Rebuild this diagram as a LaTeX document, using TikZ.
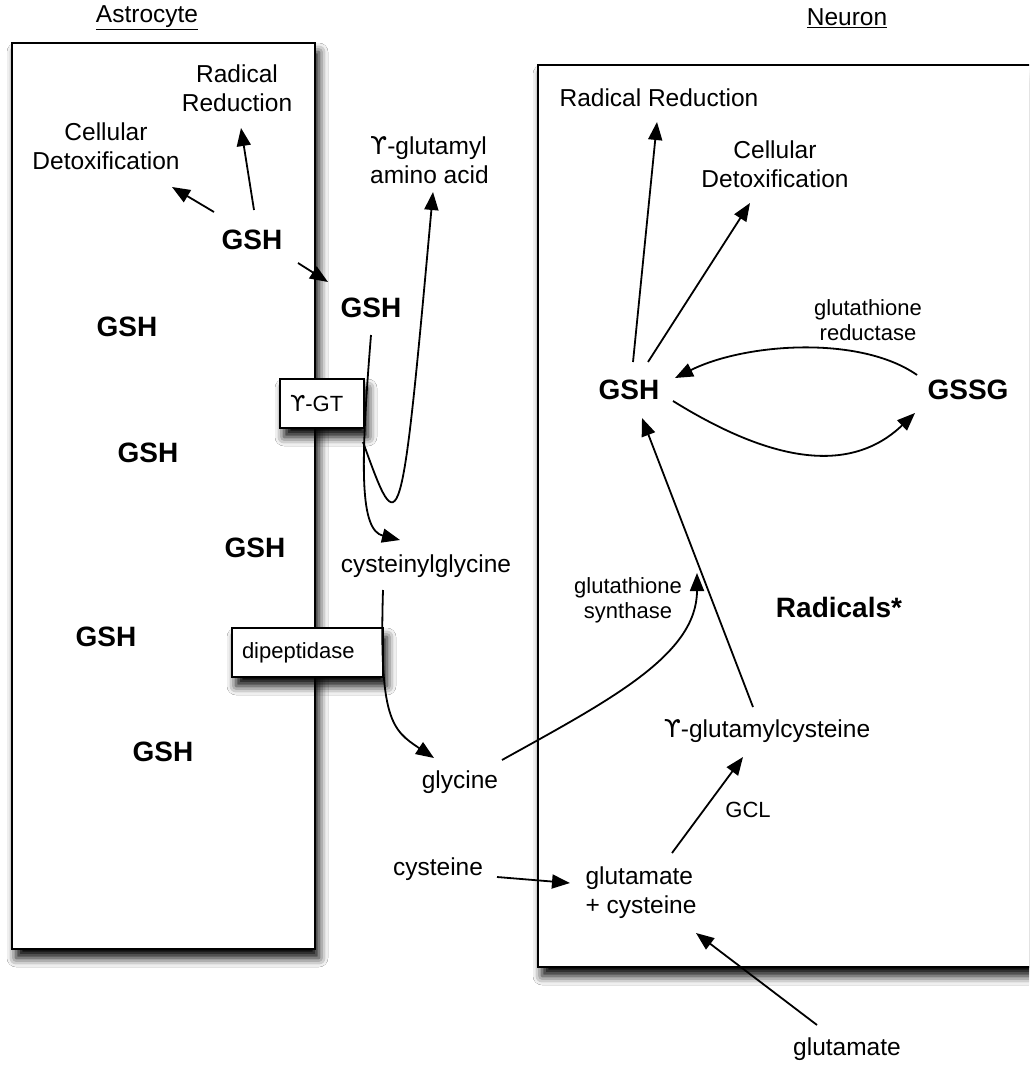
\documentclass[tikz,border=0pt]{standalone}
\usepackage{fontspec}
\setmainfont{Liberation Sans}
\newfontfamily\dejavu{DejaVu Sans}
\usetikzlibrary{arrows.meta,shadows.blur}
\newcommand{\gam}{{\dejavu ϒ}}
\tikzset{
  txt/.style={font=\fontsize{24.5}{29}\selectfont, align=center, inner sep=0pt},
  sml/.style={font=\fontsize{22}{25}\selectfont, align=center, inner sep=0pt},
  gsh/.style={font=\fontsize{28}{32}\selectfont\bfseries, inner sep=0pt},
  arr/.style={line width=1.8pt, -{Triangle[length=18pt,width=14pt]}},
  softshadow/.style={blur shadow={shadow xshift=4pt, shadow yshift=-9pt, shadow blur radius=9pt, shadow opacity=100}},
  cell/.style={draw, line width=2pt, fill=white, inner sep=0pt, softshadow},
  enz/.style={draw, line width=1.8pt, fill=white, inner ysep=0pt, inner xsep=10pt,
    font=\fontsize{22}{25}\selectfont, align=left, minimum height=49pt, softshadow}
}
\begin{document}
\begin{tikzpicture}[x=1pt,y=-1pt]
\useasboundingbox (0,0) rectangle (1029,1078);
\clip (0,0) rectangle (1029,1078);
\fill[white] (0,0) rectangle (1029,1078);

% cells
\node[cell, minimum width=303pt, minimum height=906pt] (astro) at (163.5,496) {};
\node[cell, minimum width=507pt, minimum height=902pt] (neuron) at (791.5,516) {};
\node[txt] (astroLbl) at (147,18) {\underline{Astrocyte}};
\node[txt] (neuronLbl) at (847,18) {\underline{Neuron}};

% enzymes on membrane
\node[enz, text width=64pt] (ygt) at (322,403.5) {\gam-GT};
\node[enz, text width=131pt] (dip) at (307.5,652.5) {dipeptidase};

% astrocyte texts
\node[txt] (radA) at (237,88) {Radical\\Reduction};
\node[txt] (detA) at (106,146) {Cellular\\Detoxification};
\node[gsh] (gshA) at (252,240) {GSH};
\node[gsh] (gsh1) at (127,327) {GSH};
\node[gsh] (gsh2) at (148,453) {GSH};
\node[gsh] (gsh3) at (255,548) {GSH};
\node[gsh] (gsh4) at (106,637) {GSH};
\node[gsh] (gsh5) at (163,752) {GSH};

% extracellular texts
\node[gsh] (gshB) at (371,308) {GSH};
\node[txt, anchor=west, align=left] (amino) at (370,160) {\gam-glutamyl\\amino acid};
\node[txt] (cysgly) at (426,566) {cysteinylglycine};
\node[txt] (glycine) at (460,782) {glycine};
\node[txt] (cysteine) at (438,869) {cysteine};
\node[txt] (glutamate) at (847,1049) {glutamate};

% neuron texts
\node[txt] (radN) at (659,98) {Radical Reduction};
\node[txt] (detN) at (775,164) {Cellular\\Detoxification};
\node[sml] (reduct) at (868,320) {glutathione\\reductase};
\node[gsh] (gshN) at (629,390) {GSH};
\node[gsh] (gssg) at (968,390) {GSSG};
\node[gsh] (radicals) at (839,607) {Radicals*};
\node[sml] (synth) at (628,600) {glutathione\\synthase};
\node[txt] (ygc) at (767,731) {\gam-glutamylcysteine};
\node[sml] (gcl) at (748,810) {GCL};
\node[txt, align=left] (glucys) at (641,893) {glutamate\\+ cysteine};

% connector end points
\coordinate (gshA-n) at (254,210);
\coordinate (radA-s) at (241,128);
\coordinate (gshA-nw) at (214,212);
\coordinate (detA-se) at (172,187);
\coordinate (gshA-se) at (298,263);
\coordinate (gshB-nw) at (328,282);
\coordinate (gshB-s) at (371,335);
\coordinate (cysgly-n) at (400,540);
\coordinate (ygt-se) at (363,442);
\coordinate (amino-s) at (433,192);
\coordinate (cysgly-s) at (383,590);
\coordinate (glycine-n) at (434,758);
\coordinate (glycine-e) at (502,760);
\coordinate (synth-e) at (697,573);
\coordinate (cysteine-e) at (497,877);
\coordinate (glucys-w) at (570,883);
\coordinate (glutamate-n) at (817,1025);
\coordinate (glucys-se) at (696,933);
\coordinate (glucys-n) at (672,853);
\coordinate (ygc-s) at (743,757);
\coordinate (ygc-n) at (753,707);
\coordinate (gshN-s) at (642,418);
\coordinate (gshN-n) at (633,362);
\coordinate (radN-s) at (657,122);
\coordinate (gshN-ne) at (648,362);
\coordinate (detN-s) at (750,203);
\coordinate (gssg-nw) at (917,375);
\coordinate (gshN-e) at (675,378);
\coordinate (gshN-se) at (673,401);
\coordinate (gssg-sw) at (915,413);

% connectors
\draw[arr] (gshA-n) -- (radA-s);
\draw[arr] (gshA-nw) -- (detA-se);
\draw[arr] (gshA-se) -- (gshB-nw);
\draw[arr] (gshB-s) .. controls (360,470) and (360,530) .. (cysgly-n);
\draw[arr] (ygt-se) .. controls (400,545) and (401,545) .. (amino-s);
\draw[arr] (cysgly-s) .. controls (379,720) and (392,730) .. (glycine-n);
\draw[arr] (glycine-e) .. controls (610,700) and (697,655) .. (synth-e);
\draw[arr] (cysteine-e) -- (glucys-w);
\draw[arr] (glutamate-n) -- (glucys-se);
\draw[arr] (glucys-n) -- (ygc-s);
\draw[arr] (ygc-n) -- (gshN-s);
\draw[arr] (gshN-n) -- (radN-s);
\draw[arr] (gshN-ne) -- (detN-s);
\draw[arr] (gssg-nw) .. controls (860,335) and (745,343) .. (gshN-e);
\draw[arr] (gshN-se) .. controls (760,455) and (845,480) .. (gssg-sw);
\end{tikzpicture}
\end{document}
